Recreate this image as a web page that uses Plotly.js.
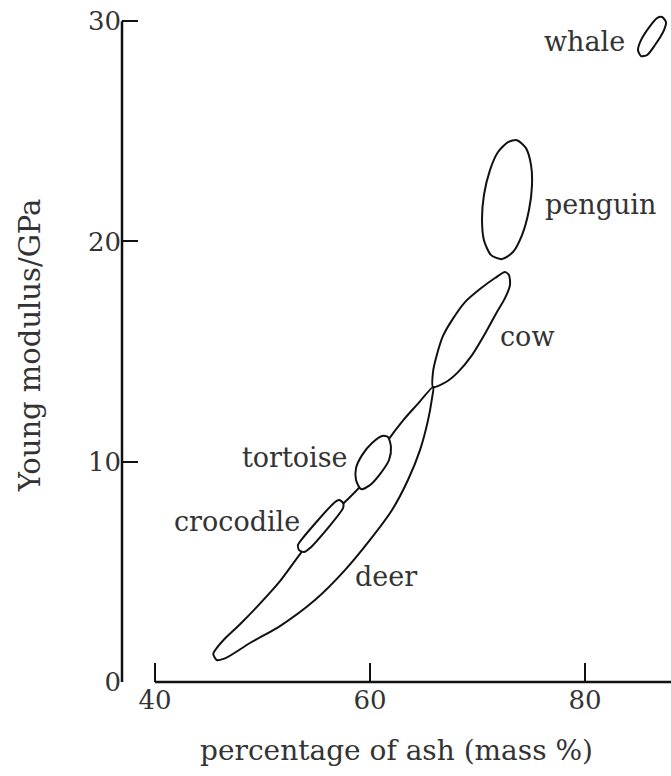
<!DOCTYPE html>
<html>
<head>
<meta charset="utf-8">
<script src="https://cdn.plot.ly/plotly-3.0.1.min.js"></script>
<style>html,body{margin:0;padding:0;background:#fff;}#chart{width:671px;height:776px;}</style>
</head>
<body>
<div id="chart"></div>
<script>
// Outlines (x: percentage of ash, y: Young modulus / GPa)
const deerX = [45.42,45.77,46.42,47.91,49.46,51.63,53.65,55.53,57.37,59.07,60.37,61.70,63.10,64.34,65.89,65.77,65.40,64.65,63.53,62.05,60.00,57.67,54.88,51.63,48.84,46.51,45.74,45.42];
const deerY = [1.27,1.56,1.93,2.62,3.40,4.58,5.91,6.99,8.03,8.87,9.94,10.99,11.89,12.57,13.40,12.89,11.89,10.53,9.17,7.81,6.45,5.08,3.72,2.54,1.77,1.07,1.00,1.27];

const crocodileX = [53.30,53.67,56.65,57.12,57.49,57.49,54.42,53.86,53.40,53.30];
const crocodileY = [6.22,6.49,8.13,8.26,8.13,7.90,6.08,5.90,5.99,6.22];

const tortoiseX = [59.16,58.70,58.70,59.26,60.19,61.12,61.67,61.95,61.77,60.93,60.00,59.16];
const tortoiseY = [8.76,9.17,9.71,10.30,10.85,11.17,11.12,10.67,10.08,9.44,8.94,8.76];

const cowX = [65.86,65.86,66.14,66.79,67.63,68.84,70.23,71.63,72.56,72.93,73.02,72.56,71.81,70.79,69.49,68.19,67.07,65.86];
const cowY = [13.39,14.07,14.71,15.71,16.43,17.25,17.84,18.34,18.61,18.47,18.02,17.43,16.80,15.89,14.84,14.07,13.62,13.39];

const penguinX = [73.67,74.51,74.98,75.07,74.79,74.14,73.30,72.28,71.26,70.60,70.42,70.60,71.16,71.91,72.84,73.67];
const penguinY = [24.60,24.24,23.47,22.56,21.43,20.29,19.52,19.20,19.38,20.06,20.97,22.11,23.24,24.06,24.51,24.60];

const whaleX = [87.16,87.53,87.35,86.51,85.77,85.21,84.93,85.21,86.05,86.70,87.16];
const whaleY = [30.19,29.96,29.60,28.92,28.46,28.42,28.69,29.14,29.78,30.14,30.19];

const xTicks = [40, 60, 80];
const yTicks = [0, 10, 20, 30];

const xRange = [36.93, 88.0];
const yRange = [0, 30.6];

const FONT = '"DejaVu Serif", "Liberation Serif", serif';
const INK = '#111';
const TXT = '#333';

function outline(name, xs, ys, filled) {
  const t = {
    type: 'scatter', mode: 'lines', name: name, x: xs, y: ys,
    line: {color: INK, width: 2, shape: 'spline', smoothing: 0.7},
    hoverinfo: 'name', showlegend: false
  };
  if (filled) { t.fill = 'toself'; t.fillcolor = '#ffffff'; }
  return t;
}

const data = [
  outline('deer', deerX, deerY, false),
  outline('cow', cowX, cowY, false),
  outline('tortoise', tortoiseX, tortoiseY, true),
  outline('crocodile', crocodileX, crocodileY, true),
  outline('penguin', penguinX, penguinY, false),
  outline('whale', whaleX, whaleY, false)
];

function label(text, x, y, anchor) {
  return {text: text, x: x, y: y, xref: 'x', yref: 'y', xanchor: anchor, yanchor: 'middle',
          showarrow: false, font: {family: FONT, size: 27, color: TXT}};
}

const layout = {
  width: 671, height: 776,
  margin: {l: 122, r: 0, t: 8, b: 94},
  paper_bgcolor: '#fff', plot_bgcolor: '#fff',
  showlegend: false,
  xaxis: {
    range: xRange, tickvals: xTicks, ticktext: xTicks.map(String),
    showline: false, showgrid: false, zeroline: false,
    ticks: 'inside', ticklen: 19, tickwidth: 2, tickcolor: INK,
    tickfont: {family: FONT, size: 26, color: TXT},
    title: {text: 'percentage of ash (mass %)', font: {family: FONT, size: 28, color: TXT}, standoff: 26},
    fixedrange: true
  },
  yaxis: {
    range: yRange, tickvals: yTicks, ticktext: yTicks.map(String),
    showline: false, showgrid: false, zeroline: false,
    ticks: 'inside', ticklen: 16, tickwidth: 2, tickcolor: INK,
    tickfont: {family: FONT, size: 26, color: TXT},
    title: {text: 'Young modulus/GPa', font: {family: FONT, size: 29, color: TXT}, standoff: 38},
    fixedrange: true
  },
  shapes: [
    {type: 'line', xref: 'x', yref: 'paper', x0: xTicks[0], x1: xRange[1], y0: 0, y1: 0, line: {color: INK, width: 2.5}},
    {type: 'line', xref: 'paper', yref: 'y', x0: 0, x1: 0, y0: yTicks[0], y1: yTicks[yTicks.length-1], line: {color: INK, width: 2.5}}
  ],
  annotations: [
    label('whale', 83.91, 29.07, 'right'),
    label('penguin', 76.09, 21.67, 'left'),
    label('cow', 71.91, 15.68, 'left'),
    label('tortoise', 58.14, 10.19, 'right'),
    label('crocodile', 53.67, 7.29, 'right'),
    label('deer', 58.42, 4.79, 'left')
  ]
};

Plotly.newPlot('chart', data, layout, {staticPlot: true, displayModeBar: false});
</script>
</body>
</html>
